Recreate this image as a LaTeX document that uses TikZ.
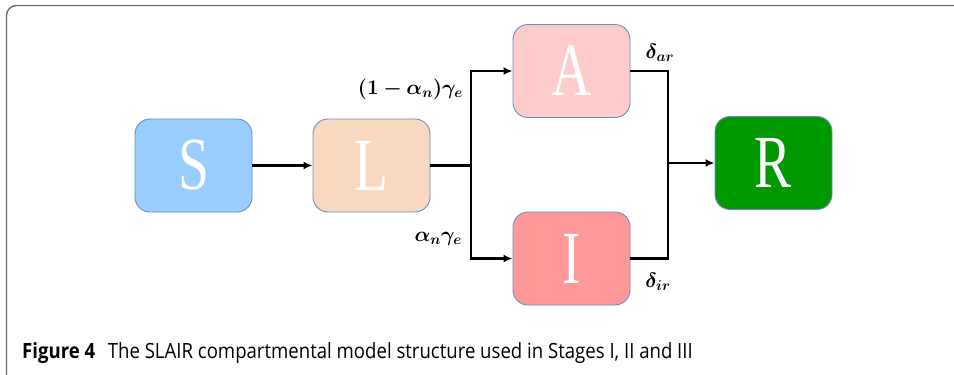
\documentclass[tikz,border=0pt]{standalone}
\usepackage{amsmath}
\usepackage{bm}
\usepackage{fontspec}
\newfontfamily\capfont{Open Sans}[FakeStretch=0.885]
\newfontfamily\letterfont{Liberation Serif}
\usetikzlibrary{arrows.meta}
\definecolor{sfill}{HTML}{99CCFF}
\definecolor{lfill}{HTML}{F8D8BE}
\definecolor{afill}{HTML}{FFCCCC}
\definecolor{ifill}{HTML}{FF9999}
\definecolor{rfill}{HTML}{009900}
\definecolor{boxline}{HTML}{6C8EBF}
\definecolor{framegray}{HTML}{6A6A6A}
\tikzset{
  comp/.style={draw=boxline, line width=0.9pt, rounded corners=15pt,
    minimum width=117pt, minimum height=93pt, inner sep=0pt,
    text=white, font=\letterfont\fontsize{75}{75}\selectfont},
  flow/.style={line width=2.4pt, draw=black},
  flowarrow/.style={flow, -{Latex[length=9pt,width=8pt]}},
  rate/.style={font=\fontsize{19.5}{19.5}\selectfont, inner sep=0pt}
}
\newcommand{\letterbox}[1]{\scalebox{0.74}[1]{#1}}
\begin{document}
\begin{tikzpicture}[x=1pt,y=-1pt]
  \useasboundingbox (0,0) rectangle (954,375);
  % outer frame, open on the right and bottom
  \begin{scope}
    \clip (0,0) rectangle (954,375);
    \draw[framegray, line width=1.4pt, rounded corners=10pt] (6.5,5.5) rectangle (1000,420);
  \end{scope}

  % compartments
  \node[comp, fill=sfill] (S) at (193.5,165.5) {\letterbox{S}};
  \node[comp, fill=lfill] (L) at (371.5,165.5) {\letterbox{L}};
  \node[comp, fill=afill] (A) at (571.5,71) {\letterbox{A}};
  \node[comp, fill=ifill] (I) at (571.5,258.5) {\letterbox{I}};
  \node[comp, fill=rfill] (R) at (773.5,163) {\letterbox{R}};

  % branching points
  \coordinate (jl) at (471,165.5);
  \coordinate (jr) at (668,163);

  % flows
  \draw[flowarrow] (S) -- (L);
  \draw[flow] (L.east) -- (jl);
  \draw[flowarrow] (jl) |- (A.west);
  \draw[flowarrow] (jl) |- (I.west);
  \draw[flow] (A.east) -| (jr) |- (I.east);
  \draw[flowarrow] (jr) -- (R.west);

  % transition rates
  \node[rate, anchor=east] (ra) at (463,89) {$\bm{(1-\alpha_n)\gamma_e}$};
  \node[rate, anchor=east] (ri) at (462,239) {$\bm{\alpha_n\gamma_e}$};
  \node[rate] (da) at (660,53) {$\bm{\delta_{ar}}$};
  \node[rate] (di) at (658,282) {$\bm{\delta_{ir}}$};

  % caption
  \node[anchor=base west, inner sep=0pt, font=\capfont\fontsize{21}{21}\selectfont] (cap) at (22,358)
    {\textbf{Figure 4}\hspace{0.6em}The SLAIR compartmental model structure used in Stages I, II and III};
\end{tikzpicture}
\end{document}
